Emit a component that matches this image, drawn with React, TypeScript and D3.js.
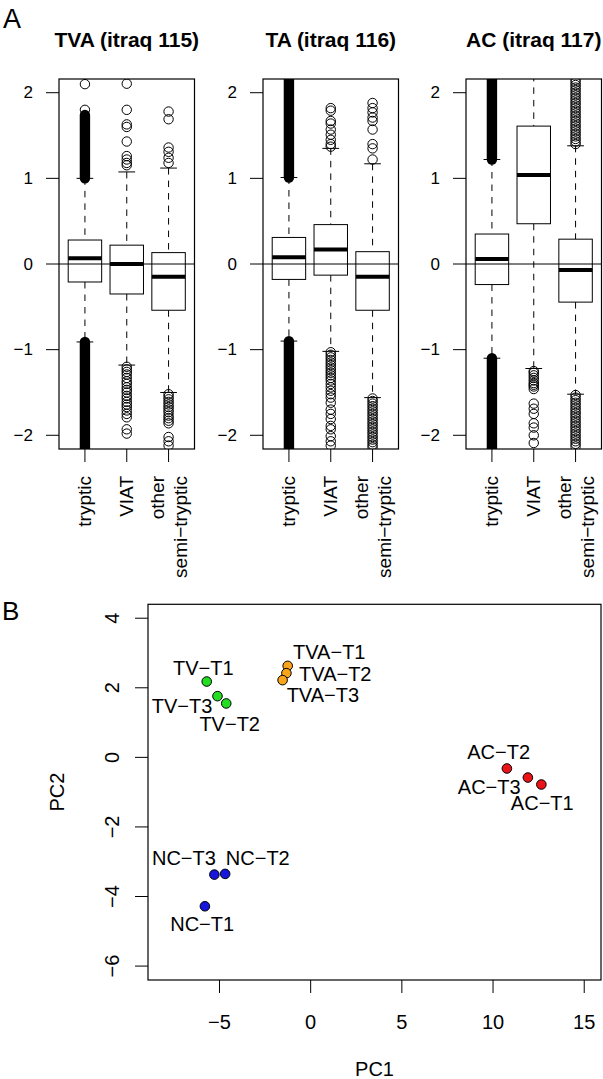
import React from "react";
import * as d3 from "d3";

// ---------- Panel A data ----------
const panelTitles = ["TVA (itraq 115)", "TA (itraq 116)", "AC (itraq 117)"];
const categoryLabels = [["tryptic"], ["VIAT"], ["other", "semi−tryptic"]];
const yTicksA = [-2, -1, 0, 1, 2];

// [lower whisker, Q1, median, Q3, upper whisker] for tryptic, VIAT, other semi-tryptic
const tvaStats = [
  [-0.91, -0.21, 0.067, 0.28, 1.0],
  [-1.18, -0.35, 0.0, 0.22, 1.075],
  [-1.5, -0.54, -0.148, 0.133, 1.12],
];
const taStats = [
  [-0.9, -0.18, 0.078, 0.31, 1.01],
  [-1.02, -0.13, 0.168, 0.46, 1.35],
  [-1.56, -0.54, -0.148, 0.144, 1.17],
];
const acStats = [
  [-1.1, -0.24, 0.059, 0.35, 1.22],
  [-1.22, 0.47, 1.04, 1.61, 2.5],
  [-1.52, -0.445, -0.07, 0.29, 1.38],
];

// very dense outlier runs (thousands of overlapping circles) : [from, to]
const tvaDense = [[[1.0, 1.74], [-2.3, -0.91]], [], []];
const taDense = [[[1.01, 2.3], [-2.3, -0.9]], [], []];
const acDense = [[[1.22, 2.3], [-2.3, -1.1]], [], []];

// individual outliers
const tvaOutliers = [
  [2.1, 1.8],
  [2.105, 1.8, 1.63, 1.6, 1.43, 1.26, 1.22, 1.18, 1.153,
    -1.2, -1.23, -1.26, -1.29, -1.33, -1.37, -1.4, -1.44, -1.47, -1.5, -1.54, -1.57,
    -1.61, -1.64, -1.67, -1.71, -1.75, -1.79, -1.93, -1.98],
  [1.78, 1.69, 1.36, 1.31, 1.24, 1.18,
    -1.52, -1.55, -1.58, -1.61, -1.64, -1.67, -1.7, -1.73, -1.77, -1.8, -1.83, -1.86,
    -2.02, -2.07, -2.12],
];
const taOutliers = [
  [],
  [1.82, 1.79, 1.67, 1.64, 1.57, 1.51, 1.45, 1.4, 1.37,
    -1.03, -1.06, -1.09, -1.12, -1.15, -1.18, -1.21, -1.24, -1.27, -1.3, -1.33, -1.36,
    -1.4, -1.44, -1.48, -1.52, -1.56, -1.62, -1.7, -1.75, -1.81, -1.89, -1.93, -2.01,
    -2.07, -2.12],
  [1.88, 1.82, 1.77, 1.71, 1.67, 1.57, 1.4, 1.35, 1.22,
    -1.57, -1.6, -1.63, -1.66, -1.69, -1.72, -1.75, -1.78, -1.81, -1.84, -1.87, -1.9,
    -1.93, -1.96, -1.99, -2.02, -2.05, -2.08, -2.11, -2.14],
];
const acOutliers = [
  [],
  [-1.25, -1.27, -1.3, -1.33, -1.36, -1.39, -1.41, -1.43, -1.46, -1.63, -1.69, -1.75,
    -1.86, -1.91, -2.0, -2.09],
  [1.4, 1.43, 1.46, 1.49, 1.52, 1.55, 1.58, 1.61, 1.64, 1.67, 1.7, 1.73, 1.76, 1.79,
    1.82, 1.85, 1.88, 1.91, 1.94, 1.97, 2.0, 2.03, 2.06, 2.09, 2.12, 2.15,
    -1.53, -1.56, -1.59, -1.62, -1.65, -1.68, -1.71, -1.74, -1.77, -1.8, -1.83, -1.86,
    -1.89, -1.92, -1.95, -1.98, -2.01, -2.04, -2.07, -2.1, -2.13],
];

// ---------- Panel B data ----------
const sampleNames = ["TV−T1", "TV−T2", "TV−T3", "TVA−T1", "TVA−T2", "TVA−T3",
  "AC−T1", "AC−T2", "AC−T3", "NC−T1", "NC−T2", "NC−T3"];
const sampleGroups = ["TV", "TV", "TV", "TVA", "TVA", "TVA", "AC", "AC", "AC", "NC", "NC", "NC"];
const pc1 = [-5.7, -4.63, -5.11, -1.26, -1.33, -1.54, 12.65, 10.76, 11.91, -5.8, -4.69, -5.28];
const pc2 = [2.18, 1.55, 1.76, 2.63, 2.42, 2.22, -0.78, -0.32, -0.58, -4.28, -3.35, -3.37];
const labelPc1 = [-5.89, -4.44, -7.05, 1.02, 1.35, 0.67, 12.7, 10.31, 9.79, -5.95, -2.9, -6.95];
const labelPc2 = [2.58, 0.96, 1.48, 3.04, 2.4, 1.79, -1.3, 0.14, -0.84, -4.8, -2.88, -2.88];
const groupNames = ["TV", "TVA", "AC", "NC"];
const groupColors = ["#22dd22", "#f8a51c", "#e81418", "#1616dd"];
const pc1Ticks = [-5, 0, 5, 10, 15];
const pc2Ticks = [-6, -4, -2, 0, 2, 4];

const FONT = "'Liberation Sans', Arial, Helvetica, sans-serif";

const panels = [
  { title: panelTitles[0], stats: tvaStats, dense: tvaDense, out: tvaOutliers },
  { title: panelTitles[1], stats: taStats, dense: taDense, out: taOutliers },
  { title: panelTitles[2], stats: acStats, dense: acDense, out: acOutliers },
];

const PANEL_LEFT = [59, 263, 466];
const PANEL_W = 135.5;
const TOP = 79;
const BOTTOM = 449;

function BoxPanel({ idx }: { idx: number }) {
  const p = panels[idx];
  const left = PANEL_LEFT[idx];
  const x = d3.scaleLinear().domain([0.38, 3.62]).range([left, left + PANEL_W]);
  const y = d3.scaleLinear().domain([-2.16, 2.16]).range([BOTTOM, TOP]);
  const half = x(1.4) - x(1);
  const capHalf = x(1.2) - x(1);
  const r = 4.7;
  const clipId = `clipA${idx}`;
  return (
    <g>
      <defs>
        <clipPath id={clipId}>
          <rect x={left} y={TOP} width={PANEL_W} height={BOTTOM - TOP} />
        </clipPath>
      </defs>
      <text x={left + PANEL_W / 2} y={47} textAnchor="middle" fontWeight="bold" fontSize={21} fontFamily={FONT}>
        {p.title}
      </text>
      <g clipPath={`url(#${clipId})`}>
        {p.stats.map((s, i) => {
          const cx = x(i + 1);
          return (
            <g key={i}>
              <line x1={cx} x2={cx} y1={y(s[4])} y2={y(s[3])} stroke="#000" strokeDasharray="6.5,6" />
              <line x1={cx} x2={cx} y1={y(s[1])} y2={y(s[0])} stroke="#000" strokeDasharray="6.5,6" />
              <line x1={cx - capHalf} x2={cx + capHalf} y1={y(s[4])} y2={y(s[4])} stroke="#000" />
              <line x1={cx - capHalf} x2={cx + capHalf} y1={y(s[0])} y2={y(s[0])} stroke="#000" />
              <rect x={cx - half} y={y(s[3])} width={2 * half} height={y(s[1]) - y(s[3])} fill="#fff" stroke="#000" />
              <line x1={cx - half} x2={cx + half} y1={y(s[2])} y2={y(s[2])} stroke="#000" strokeWidth={4} />
            </g>
          );
        })}
        {p.dense.map((bands, i) =>
          bands.map((b, j) => (
            <rect key={`d${i}-${j}`} x={x(i + 1) - r - 0.5} width={2 * r + 1}
              y={y(b[1]) - r - 0.5} height={y(b[0]) - y(b[1]) + 2 * r + 1}
              rx={r + 0.5} fill="#000" />
          ))
        )}
        {p.out.map((vals, i) =>
          vals.map((v, j) => (
            <circle key={`o${i}-${j}`} cx={x(i + 1)} cy={y(v)} r={r} fill="none" stroke="#000" strokeWidth={1} />
          ))
        )}
        <line x1={left} x2={left + PANEL_W} y1={y(0)} y2={y(0)} stroke="#000" />
      </g>
      <rect x={left} y={TOP} width={PANEL_W} height={BOTTOM - TOP} fill="none" stroke="#000" strokeWidth={1.2} />
      {yTicksA.map((t) => (
        <g key={t}>
          <line x1={left - 13} x2={left} y1={y(t)} y2={y(t)} stroke="#000" />
          <text x={left - 26} y={y(t)} textAnchor="end" dominantBaseline="central" fontSize={17} fontFamily={FONT}>
            {t < 0 ? `−${Math.abs(t)}` : `${t}`}
          </text>
        </g>
      ))}
      {categoryLabels.map((lab, i) => {
        const cx = x(i + 1);
        const offsets = lab.length === 1 ? [0] : [-11, 12];
        return (
          <g key={i}>
            <line x1={cx} x2={cx} y1={BOTTOM} y2={BOTTOM + 13} stroke="#000" />
            {lab.map((line, k) => (
              <text key={k} transform={`translate(${cx + offsets[k]},${476}) rotate(-90)`}
                textAnchor="end" dominantBaseline="central" fontSize={19} fontFamily={FONT}>
                {line}
              </text>
            ))}
          </g>
        );
      })}
    </g>
  );
}

function Scatter() {
  const L = 148, R = 601, T = 604.3, B = 980;
  const x = d3.scaleLinear().domain([-8.92, 15.92]).range([L, R]);
  const y = d3.scaleLinear().domain([-6.4, 4.4]).range([B, T]);
  const color = d3.scaleOrdinal<string, string>().domain(groupNames).range(groupColors);
  const fmt = (t: number) => (t < 0 ? `−${Math.abs(t)}` : `${t}`);
  return (
    <g>
      <rect x={L} y={T} width={R - L} height={B - T} fill="none" stroke="#000" strokeWidth={1.2} />
      {pc1Ticks.map((t) => (
        <g key={t}>
          <line x1={x(t)} x2={x(t)} y1={B} y2={B + 13} stroke="#000" />
          <text x={x(t)} y={1021.5} textAnchor="middle" dominantBaseline="central" fontSize={20} fontFamily={FONT}>
            {fmt(t)}
          </text>
        </g>
      ))}
      {pc2Ticks.map((t) => (
        <g key={t}>
          <line x1={L - 13} x2={L} y1={y(t)} y2={y(t)} stroke="#000" />
          <text transform={`translate(${111.5},${y(t)}) rotate(-90)`} textAnchor="middle" dominantBaseline="central"
            fontSize={20} fontFamily={FONT}>
            {fmt(t)}
          </text>
        </g>
      ))}
      <text x={(L + R) / 2} y={1069} textAnchor="middle" dominantBaseline="central" fontSize={20} fontFamily={FONT}>PC1</text>
      <text transform={`translate(57,${(T + B) / 2}) rotate(-90)`} textAnchor="middle" dominantBaseline="central"
        fontSize={20} fontFamily={FONT}>PC2</text>
      {sampleNames.map((n, i) => (
        <circle key={n} cx={x(pc1[i])} cy={y(pc2[i])} r={4.8} fill={color(sampleGroups[i])} stroke="#000" strokeWidth={1} />
      ))}
      {sampleNames.map((n, i) => (
        <text key={`l${n}`} x={x(labelPc1[i])} y={y(labelPc2[i])} textAnchor="middle" dominantBaseline="central"
          fontSize={20} fontFamily={FONT}>
          {n}
        </text>
      ))}
    </g>
  );
}

export default function App() {
  return (
    <svg width={603} height={1079} style={{ position: "absolute", left: 0, top: 0, background: "#fff" }}>
      <rect x={0} y={0} width={603} height={1079} fill="#fff" />
      <text x={3} y={28} fontSize={27} fontFamily={FONT}>A</text>
      <text x={2} y={620} fontSize={26} fontFamily={FONT}>B</text>
      {[0, 1, 2].map((i) => (
        <BoxPanel key={i} idx={i} />
      ))}
      <Scatter />
    </svg>
  );
}
